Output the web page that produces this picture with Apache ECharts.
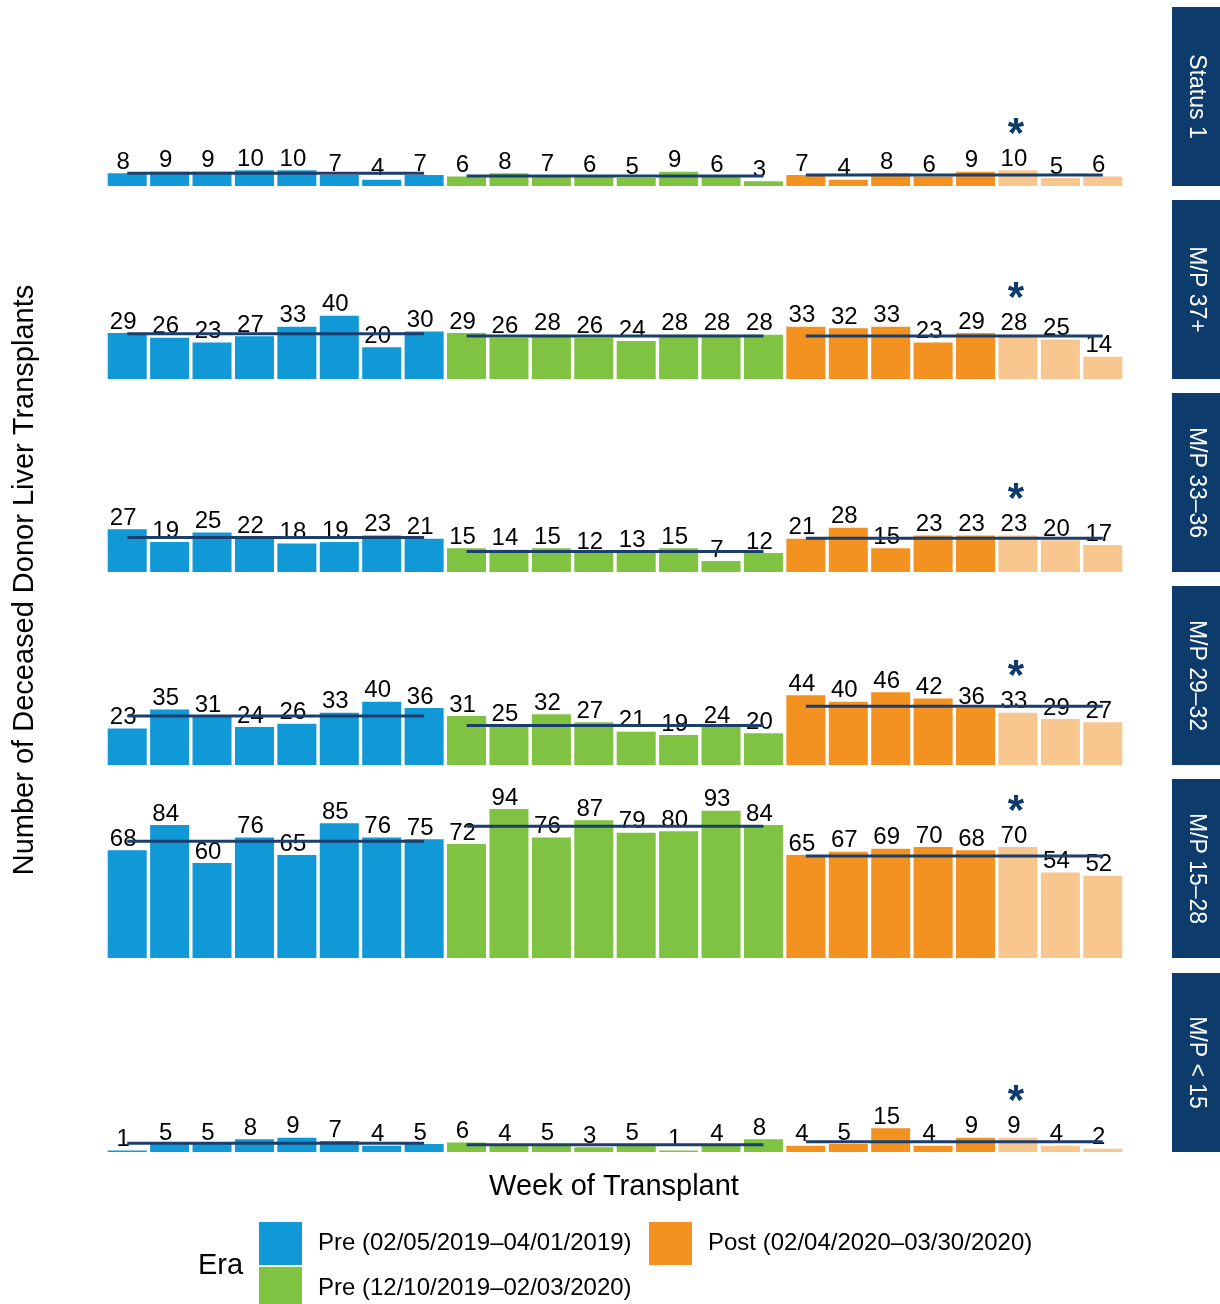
<!DOCTYPE html>
<html>
<head>
<meta charset="utf-8">
<title>Deceased Donor Liver Transplants by Week</title>
<script src="https://cdn.jsdelivr.net/npm/echarts@6/dist/echarts.min.js"></script>
<style>
  html, body { margin: 0; padding: 0; background: #fff; }
  #main { width: 1220px; height: 1304px; }
</style>
</head>
<body>
<div id="main"></div>
<script>
(function() {
  /** Data */
  var eraNames = ['Pre (02/05/2019–04/01/2019)', 'Pre (12/10/2019–02/03/2020)', 'Post (02/04/2020–03/30/2020)'];
  var weeks = ['W1', 'W2', 'W3', 'W4', 'W5', 'W6', 'W7', 'W8'];
  var panelNames = ['Status 1', 'M/P 37+', 'M/P 33–36', 'M/P 29–32', 'M/P 15–28', 'M/P < 15'];

  // 8 weeks per era: Pre 2019 | Pre 2019/20 | Post 2020
  var status1 = [8, 9, 9, 10, 10, 7, 4, 7,   6, 8, 7, 6, 5, 9, 6, 3,   7, 4, 8, 6, 9, 10, 5, 6];
  var mp37 = [29, 26, 23, 27, 33, 40, 20, 30,   29, 26, 28, 26, 24, 28, 28, 28,   33, 32, 33, 23, 29, 28, 25, 14];
  var mp33 = [27, 19, 25, 22, 18, 19, 23, 21,   15, 14, 15, 12, 13, 15, 7, 12,   21, 28, 15, 23, 23, 23, 20, 17];
  var mp29 = [23, 35, 31, 24, 26, 33, 40, 36,   31, 25, 32, 27, 21, 19, 24, 20,   44, 40, 46, 42, 36, 33, 29, 27];
  var mp15 = [68, 84, 60, 76, 65, 85, 76, 75,   72, 94, 76, 87, 79, 80, 93, 84,   65, 67, 69, 70, 68, 70, 54, 52];
  var mpLt15 = [1, 5, 5, 8, 9, 7, 4, 5,   6, 4, 5, 3, 5, 1, 4, 8,   4, 5, 15, 4, 9, 9, 4, 2];

  var fadedWeeks = ['W6', 'W7', 'W8']; // Post weeks drawn lighter
  var starWeek = 'W6';                 // Post week flagged with *

  var panelData = [status1, mp37, mp33, mp29, mp15, mpLt15];

  /** Styles */
  var font = '"Liberation Sans", Arial, Helvetica, sans-serif';
  var eraColors = ['#1198d6', '#80c342', '#f39220'];
  var fadedColor = '#f7c78f';
  var navy = '#0c3b6c';
  var lineColor = '#1b3e6d';
  var top0 = 7, panelH = 179, step = 193.1;

  var categories = [];
  eraNames.forEach(function(e, i) {
    weeks.forEach(function(w) { categories.push(i + '-' + w); });
  });

  var grids = [], xAxes = [], yAxes = [], series = [], graphics = [];

  panelData.forEach(function(vals, p) {
    var top = Math.round(top0 + p * step);
    grids.push({ left: 106, right: 96, top: top, height: panelH });
    xAxes.push({ type: 'category', gridIndex: p, data: categories, show: false });
    yAxes.push({ type: 'value', gridIndex: p, min: 0, max: 113, show: false, splitLine: { show: false } });

    eraNames.forEach(function(name, e) {
      var bars = [], mean = [], sum = 0;
      for (var k = 0; k < weeks.length; k++) sum += vals[e * 8 + k];
      var avg = sum / weeks.length;
      categories.forEach(function(c, i) {
        if (Math.floor(i / 8) !== e) { bars.push('-'); mean.push('-'); return; }
        var wk = weeks[i % 8];
        var item = { value: vals[i] };
        if (e === 2 && fadedWeeks.indexOf(wk) >= 0) item.itemStyle = { color: fadedColor };
        bars.push(item);
        mean.push(avg);
      });

      series.push({
        type: 'bar',
        name: name,
        xAxisIndex: p,
        yAxisIndex: p,
        stack: 'p' + p,
        barCategoryGap: '8%',
        z: 2,
        itemStyle: { color: eraColors[e] },
        label: {
          show: true,
          position: 'top',
          distance: -1,
          offset: [-4, 0],
          color: '#000',
          fontSize: 24,
          fontFamily: font,
          formatter: function(prm) {
            if (e === 2 && weeks[prm.dataIndex % 8] === starWeek) {
              return '{s|*}\n{v|' + prm.value + '}';
            }
            return prm.value;
          },
          rich: {
            s: { fontSize: 42, fontWeight: 'bold', color: navy, fontFamily: font, lineHeight: 30, padding: [0, 0, -6, 4] },
            v: { fontSize: 24, color: '#000', fontFamily: font, lineHeight: 24 }
          }
        },
        data: bars
      });

      series.push({
        type: 'line',
        name: 'mean',
        xAxisIndex: p,
        yAxisIndex: p,
        z: 3,
        symbol: 'none',
        silent: true,
        lineStyle: { color: lineColor, width: 3 },
        data: mean
      });
    });

    // facet strip on the right
    graphics.push({
      type: 'rect',
      shape: { x: 1172, y: top, width: 48, height: panelH },
      style: { fill: navy }
    });
    graphics.push({
      type: 'text',
      x: 1196,
      y: top + panelH / 2,
      rotation: -Math.PI / 2,
      style: {
        text: panelNames[p],
        fill: '#fff',
        font: '23px ' + font,
        textAlign: 'center', textVerticalAlign: 'middle',
        align: 'center', verticalAlign: 'middle'
      }
    });
  });

  graphics.push({
    type: 'text',
    x: 25,
    y: 580,
    rotation: Math.PI / 2,
    style: {
      text: 'Number of Deceased Donor Liver Transplants',
      fill: '#000',
      font: '29px ' + font,
      textAlign: 'center', textVerticalAlign: 'middle',
      align: 'center', verticalAlign: 'middle'
    }
  });
  graphics.push({
    type: 'text',
    x: 614,
    y: 1187,
    style: {
      text: 'Week of Transplant',
      fill: '#000',
      font: '29px ' + font,
      textAlign: 'center', textVerticalAlign: 'middle',
      align: 'center', verticalAlign: 'middle'
    }
  });
  graphics.push({
    type: 'text',
    x: 198,
    y: 1266,
    style: {
      text: 'Era',
      fill: '#000',
      font: '29px ' + font,
      textAlign: 'left', textVerticalAlign: 'middle',
      align: 'left', verticalAlign: 'middle'
    }
  });

  var legendText = { fontSize: 24, fontFamily: font, color: '#000', padding: [4, 0, 0, 11] };
  function legendAt(name, left, top) {
    return {
      data: [name],
      left: left,
      top: top,
      padding: 0,
      itemWidth: 43,
      itemHeight: 43,
      icon: 'rect',
      selectedMode: false,
      textStyle: legendText
    };
  }

  var option = {
    animation: false,
    backgroundColor: '#fff',
    grid: grids,
    xAxis: xAxes,
    yAxis: yAxes,
    legend: [
      legendAt(eraNames[0], 259, 1222),
      legendAt(eraNames[1], 259, 1267),
      legendAt(eraNames[2], 649, 1222)
    ],
    graphic: graphics,
    series: series
  };

  var chartInstance = echarts.init(document.getElementById('main'));
  chartInstance.setOption(option);
})();
</script>
</body>
</html>
